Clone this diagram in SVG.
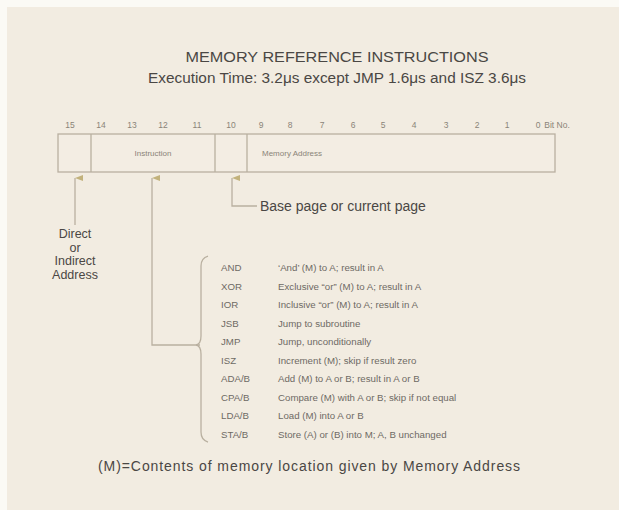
<svg xmlns="http://www.w3.org/2000/svg" width="619" height="510" viewBox="0 0 619 510">
<style>
.t{font-family:"Liberation Sans","DejaVu Sans",sans-serif;fill:#4a4744}
.bit{font-family:"Liberation Sans",sans-serif;font-size:8.5px;fill:#8a8478;text-anchor:middle}
.fld{font-family:"Liberation Sans",sans-serif;font-size:8px;fill:#8a8478}
.tb{font-family:"Liberation Sans",sans-serif;font-size:9.7px;fill:#6e6a64}
.ln{fill:none;stroke:#b9b0a0;stroke-width:1.3}
</style>
<defs>
<marker id="ah" viewBox="0 0 6 8" refX="3" refY="0" markerWidth="6" markerHeight="8" orient="auto-start-reverse" markerUnits="userSpaceOnUse">
<path d="M0,8 L3,0 L6,8 Z" fill="#c2b27c"/>
</marker>
</defs>
<rect x="0" y="0" width="619" height="510" fill="#fbfaf5"/>
<rect x="7" y="7" width="612" height="503" fill="#f2ece1"/>
<g id="title">
<text class="t" x="337" y="62" font-size="15" text-anchor="middle" textLength="303" lengthAdjust="spacingAndGlyphs">MEMORY REFERENCE INSTRUCTIONS</text>
<text class="t" x="337" y="83" font-size="14" text-anchor="middle" textLength="378" lengthAdjust="spacingAndGlyphs">Execution Time: 3.2μs except JMP 1.6μs and ISZ 3.6μs</text>
</g>
<g id="bits">
<text class="bit" x="70" y="128">15</text>
<text class="bit" x="101" y="128">14</text>
<text class="bit" x="132" y="128">13</text>
<text class="bit" x="163" y="128">12</text>
<text class="bit" x="197" y="128">11</text>
<text class="bit" x="231" y="128">10</text>
<text class="bit" x="261" y="128">9</text>
<text class="bit" x="290" y="128">8</text>
<text class="bit" x="322" y="128">7</text>
<text class="bit" x="353" y="128">6</text>
<text class="bit" x="383" y="128">5</text>
<text class="bit" x="414" y="128">4</text>
<text class="bit" x="446" y="128">3</text>
<text class="bit" x="477" y="128">2</text>
<text class="bit" x="507" y="128">1</text>
<text class="bit" x="538" y="128">0</text>
<text class="bit" x="557" y="128" text-anchor="start">Bit No.</text>
</g>
<g id="register">
<rect x="58" y="134" width="497" height="38" fill="#f3ede3" stroke="#b9b0a0" stroke-width="1.3"/>
<line class="ln" x1="91" y1="134" x2="91" y2="172"/>
<line class="ln" x1="215" y1="134" x2="215" y2="172"/>
<line class="ln" x1="247" y1="134" x2="247" y2="172"/>
<text class="fld" x="153" y="156" text-anchor="middle">Instruction</text>
<text class="fld" x="262" y="156">Memory Address</text>
</g>
<g id="connectors">
<line class="ln" x1="75" y1="178" x2="75" y2="225" marker-start="url(#ah)"/>
<polyline class="ln" points="152,178 152,345 200,345" marker-start="url(#ah)"/>
<polyline class="ln" points="232,178 232,206 257,206" marker-start="url(#ah)"/>
<path class="ln" d="M208,256 Q201,258 201,266 L201,336 Q201,344 196,345 Q201,346 201,354 L201,432 Q201,440 208,442"/>
</g>
<g id="direct">
<text class="t" font-size="12.5" text-anchor="middle" x="75" y="238">Direct</text>
<text class="t" font-size="12.5" text-anchor="middle" x="75" y="251.5">or</text>
<text class="t" font-size="12.5" text-anchor="middle" x="75" y="265">Indirect</text>
<text class="t" font-size="12.5" text-anchor="middle" x="75" y="278.5">Address</text>
</g>
<g id="base">
<text class="t" font-size="14" x="260" y="211">Base page or current page</text>
</g>
<g id="table">
<text class="tb" x="221" y="271">AND</text><text class="tb" x="278" y="271">‘And’ (M) to A; result in A</text>
<text class="tb" x="221" y="289.5">XOR</text><text class="tb" x="278" y="289.5">Exclusive “or” (M) to A; result in A</text>
<text class="tb" x="221" y="308">IOR</text><text class="tb" x="278" y="308">Inclusive “or” (M) to A; result in A</text>
<text class="tb" x="221" y="326.5">JSB</text><text class="tb" x="278" y="326.5">Jump to subroutine</text>
<text class="tb" x="221" y="345">JMP</text><text class="tb" x="278" y="345">Jump, unconditionally</text>
<text class="tb" x="221" y="363.5">ISZ</text><text class="tb" x="278" y="363.5">Increment (M); skip if result zero</text>
<text class="tb" x="221" y="382">ADA/B</text><text class="tb" x="278" y="382">Add (M) to A or B; result in A or B</text>
<text class="tb" x="221" y="400.5">CPA/B</text><text class="tb" x="278" y="400.5">Compare (M) with A or B; skip if not equal</text>
<text class="tb" x="221" y="419">LDA/B</text><text class="tb" x="278" y="419">Load (M) into A or B</text>
<text class="tb" x="221" y="437.5">STA/B</text><text class="tb" x="278" y="437.5">Store (A) or (B) into M; A, B unchanged</text>
</g>
<g id="footnote">
<text class="t" font-size="14" x="98" y="471" textLength="422" lengthAdjust="spacing">(M)=Contents of memory location given by Memory Address</text>
</g>
</svg>
